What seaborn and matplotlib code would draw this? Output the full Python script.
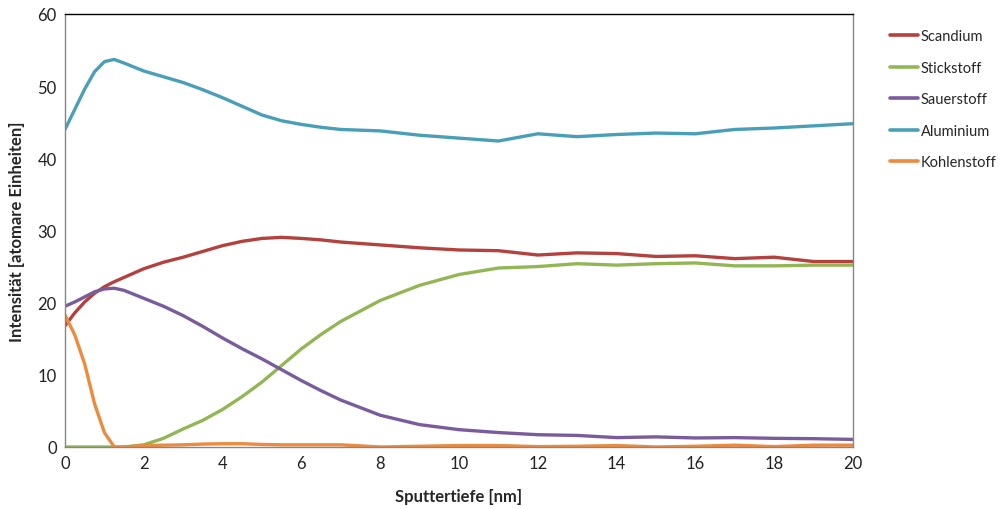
import numpy as np
import pandas as pd
import matplotlib
matplotlib.use("Agg")
import matplotlib.pyplot as plt
import seaborn as sns

depth = [0, 0.25, 0.5, 0.75, 1, 1.25, 1.5, 2, 2.5, 3, 3.5, 4, 4.5, 5, 5.5, 6, 6.5, 7, 8, 9, 10,
         11, 12, 13, 14, 15, 16, 17, 18, 19, 20]

scandium = [16.8, 18.6, 20.1, 21.3, 22.2, 22.9, 23.5, 24.7, 25.6, 26.3, 27.1, 27.9, 28.5, 28.9,
            29.05, 28.9, 28.7, 28.4, 28.0, 27.6, 27.3, 27.2, 26.6, 26.9, 26.8, 26.4, 26.5, 26.1,
            26.3, 25.7, 25.7]
stickstoff = [0, 0, 0, 0, 0, 0, 0, 0.3, 1.2, 2.5, 3.7, 5.2, 7.0, 9.0, 11.3, 13.6, 15.6, 17.4,
              20.3, 22.4, 23.9, 24.8, 25.0, 25.4, 25.2, 25.4, 25.5, 25.1, 25.1, 25.2, 25.2]
sauerstoff = [19.5, 20.1, 20.8, 21.5, 21.9, 22.0, 21.7, 20.6, 19.5, 18.2, 16.7, 15.1, 13.6, 12.2,
              10.7, 9.2, 7.8, 6.5, 4.4, 3.1, 2.4, 2.0, 1.7, 1.6, 1.3, 1.4, 1.25, 1.3, 1.2, 1.15, 1.05]
aluminium = [44.0, 46.8, 49.6, 52.0, 53.4, 53.7, 53.2, 52.1, 51.3, 50.5, 49.5, 48.4, 47.2, 46.0,
             45.2, 44.7, 44.3, 44.0, 43.8, 43.2, 42.8, 42.4, 43.4, 43.0, 43.3, 43.5, 43.4, 44.0,
             44.2, 44.5, 44.8]
kohlenstoff = [18.3, 15.5, 11.5, 6.0, 2.0, 0.0, 0.0, 0.2, 0.25, 0.3, 0.4, 0.45, 0.45, 0.35, 0.3,
               0.3, 0.3, 0.3, 0.0, 0.1, 0.2, 0.2, 0.05, 0.1, 0.2, 0.0, 0.1, 0.25, 0.05, 0.25, 0.25]

series_names = ["Scandium", "Stickstoff", "Sauerstoff", "Aluminium", "Kohlenstoff"]
series_values = [scandium, stickstoff, sauerstoff, aluminium, kohlenstoff]
colors = ["#B3423F", "#93B655", "#7A5C9C", "#4A9FB8", "#EE8A3C"]

x_ticks = list(range(0, 21, 2))
y_ticks = list(range(0, 61, 10))

df = pd.concat([
    pd.DataFrame({"depth": depth, "value": vals, "element": name})
    for name, vals in zip(series_names, series_values)
], ignore_index=True)

sns.set_theme(style="white")
plt.rcParams["font.family"] = ["Lato", "DejaVu Sans"]

fig = plt.figure(figsize=(10, 5.1), dpi=100)
ax = fig.add_axes([0.065, 0.1216, 0.788, 0.849])

sns.lineplot(data=df, x="depth", y="value", hue="element", hue_order=series_names,
             palette=colors, linewidth=2.4, ax=ax, legend=True)

ax.set_xlim(0, 20)
ax.set_ylim(0, 60)
ax.set_xticks(x_ticks)
ax.set_yticks(y_ticks)
ax.tick_params(axis="both", length=0, labelsize=12, colors="#222222", pad=6)
ax.set_xlabel("Sputtertiefe [nm]", fontsize=12, fontweight="bold", labelpad=12)
ax.set_ylabel("Intensität [atomare Einheiten]", fontsize=12, fontweight="bold", labelpad=9)

for side in ["left", "right", "bottom"]:
    ax.spines[side].set_color("#868686")
    ax.spines[side].set_linewidth(1.0)
ax.spines["top"].set_color("#000000")
ax.spines["top"].set_linewidth(1.0)

handles, labels = ax.get_legend_handles_labels()
ax.get_legend().remove()
leg = fig.legend(handles, labels, loc="upper left", bbox_to_anchor=(0.884, 0.952),
                 frameon=False, fontsize=10.5, handlelength=1.9, handletextpad=0.2,
                 labelspacing=1.2, borderaxespad=0)
for h in leg.get_lines():
    h.set_linewidth(2.6)

fig.savefig("out.png", dpi=100)
